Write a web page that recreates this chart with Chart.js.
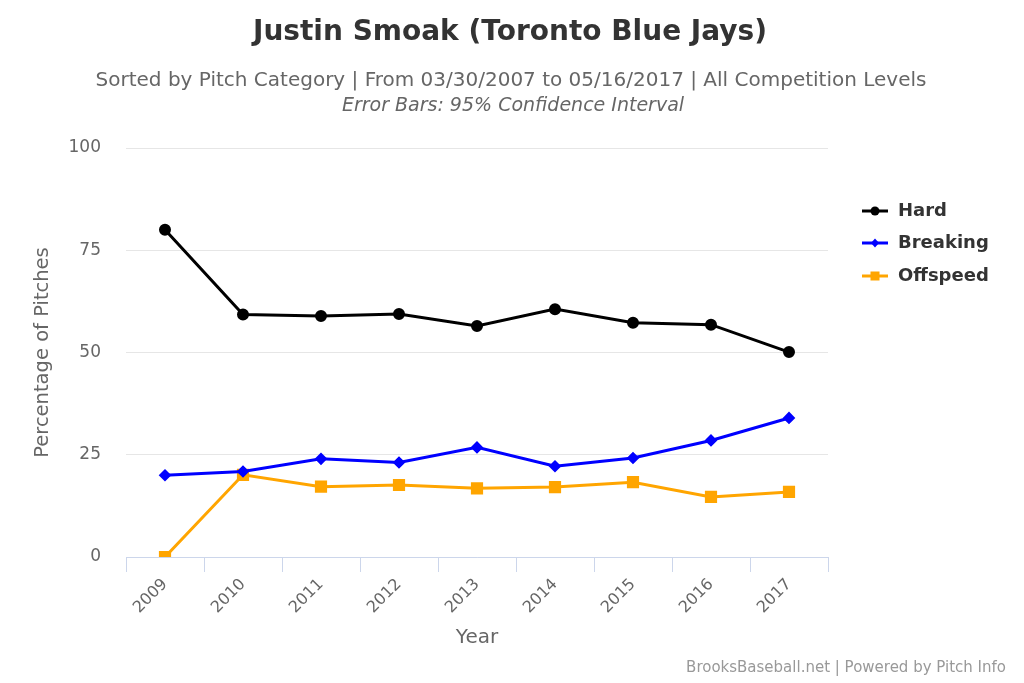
<!DOCTYPE html>
<html>
<head>
<meta charset="utf-8">
<script src="https://cdn.jsdelivr.net/npm/chart.js@4/dist/chart.umd.min.js"></script>
<style>
  html, body { margin: 0; padding: 0; background: #fff; }
  #wrap { width: 1024px; height: 683px; position: relative; }
</style>
</head>
<body>
<div id="wrap"><canvas id="pitches" width="1024" height="683"></canvas></div>
<script>
// Pitch mix by year (percent of pitches)
var years = ['2009', '2010', '2011', '2012', '2013', '2014', '2015', '2016', '2017'];
var hard = [80.0, 59.3, 58.9, 59.4, 56.5, 60.6, 57.3, 56.8, 50.1];
var breaking = [20.0, 20.9, 24.0, 23.1, 26.8, 22.2, 24.2, 28.5, 34.0];
var offspeed = [0.0, 20.1, 17.2, 17.6, 16.8, 17.1, 18.3, 14.7, 15.9];
var yTicks = [0, 25, 50, 75, 100];

var FONT = '"DejaVu Sans", "Liberation Sans", sans-serif';

// marker drawing, shared by legend
function drawMarker(ctx, style, x, y, color) {
  ctx.fillStyle = color;
  ctx.beginPath();
  if (style === 'circle') {
    ctx.arc(x, y, 4.5, 0, Math.PI * 2);
  } else if (style === 'rectRot') {
    ctx.moveTo(x - 4, y); ctx.lineTo(x, y - 4.5); ctx.lineTo(x + 4, y); ctx.lineTo(x, y + 4.5);
    ctx.closePath();
  } else {
    ctx.rect(x - 4.5, y - 4.5, 9, 9);
  }
  ctx.fill();
}

// headers, legend and credits
var decorations = {
  id: 'decorations',
  afterDraw: function(chart) {
    var ctx = chart.ctx;
    ctx.save();
    ctx.textBaseline = 'middle';
    ctx.textAlign = 'center';
    ctx.fillStyle = '#333333';
    ctx.font = 'bold 28px ' + FONT;
    ctx.fillText('Justin Smoak (Toronto Blue Jays)', 510, 33);
    ctx.fillStyle = '#666666';
    ctx.font = '20px ' + FONT;
    ctx.fillText('Sorted by Pitch Category | From 03/30/2007 to 05/16/2017 | All Competition Levels', 511, 81);
    ctx.font = 'italic 19px ' + FONT;
    ctx.fillText('Error Bars: 95% Confidence Interval', 513, 106);

    // legend
    var rows = [211, 243, 276];
    chart.data.datasets.forEach(function(ds, i) {
      var y = rows[i];
      ctx.strokeStyle = ds.borderColor;
      ctx.lineWidth = 3;
      ctx.beginPath();
      ctx.moveTo(862, y); ctx.lineTo(888, y);
      ctx.stroke();
      drawMarker(ctx, ds.pointStyle, 875, y, ds.borderColor);
      ctx.fillStyle = '#333333';
      ctx.font = 'bold 18px ' + FONT;
      ctx.textAlign = 'left';
      ctx.fillText(ds.label, 898, y);
    });

    // credits
    ctx.textAlign = 'right';
    ctx.fillStyle = '#999999';
    ctx.font = '15px ' + FONT;
    ctx.fillText('BrooksBaseball.net | Powered by Pitch Info', 1006, 668);
    ctx.restore();
  }
};

var ctx = document.getElementById('pitches').getContext('2d');
new Chart(ctx, {
  type: 'line',
  data: {
    labels: years,
    datasets: [
      { label: 'Hard', data: hard, borderColor: '#000000', backgroundColor: '#000000',
        pointStyle: 'circle', pointRadius: 4.5, borderWidth: 3 },
      { label: 'Breaking', data: breaking, borderColor: '#0000ff', backgroundColor: '#0000ff',
        pointStyle: 'rectRot', pointRadius: 4.2, borderWidth: 3 },
      { label: 'Offspeed', data: offspeed, borderColor: '#ffa500', backgroundColor: '#ffa500',
        pointStyle: 'rect', pointRadius: 6.5, borderWidth: 3 }
    ]
  },
  options: {
    responsive: false,
    animation: false,
    events: [],
    layout: { padding: { top: 148, right: 196, left: 0, bottom: 0 } },
    plugins: {
      legend: { display: false },
      title: { display: false },
      tooltip: { enabled: false }
    },
    elements: { line: { tension: 0 }, point: { borderWidth: 0 } },
    scales: {
      x: {
        offset: true,
        afterFit: function(scale) { scale.height = 126; },
        grid: { offset: true, drawOnChartArea: false, drawTicks: true, tickLength: 15, color: '#ccd6eb' },
        border: { display: true, color: '#ccd6eb', width: 1 },
        ticks: { minRotation: 45, maxRotation: 45, padding: 3, color: '#666666',
                 font: { family: FONT, size: 16 } },
        title: { display: true, text: 'Year', color: '#666666', padding: { top: 0, bottom: 34 },
                 font: { family: FONT, size: 20, lineHeight: 1.1 } }
      },
      y: {
        min: 0, max: 100,
        afterFit: function(scale) { scale.width = 126; },
        afterBuildTicks: function(scale) { scale.ticks = yTicks.map(function(v) { return { value: v }; }); },
        grid: { color: '#e6e6e6', drawTicks: false },
        border: { display: false },
        ticks: { padding: 25, color: '#666666', font: { family: FONT, size: 17 } },
        title: { display: true, text: 'Percentage of Pitches', color: '#666666', padding: { top: 32, bottom: 0 },
                 font: { family: FONT, size: 19.5, lineHeight: 1.1 } }
      }
    }
  },
  plugins: [decorations]
});
</script>
</body>
</html>
